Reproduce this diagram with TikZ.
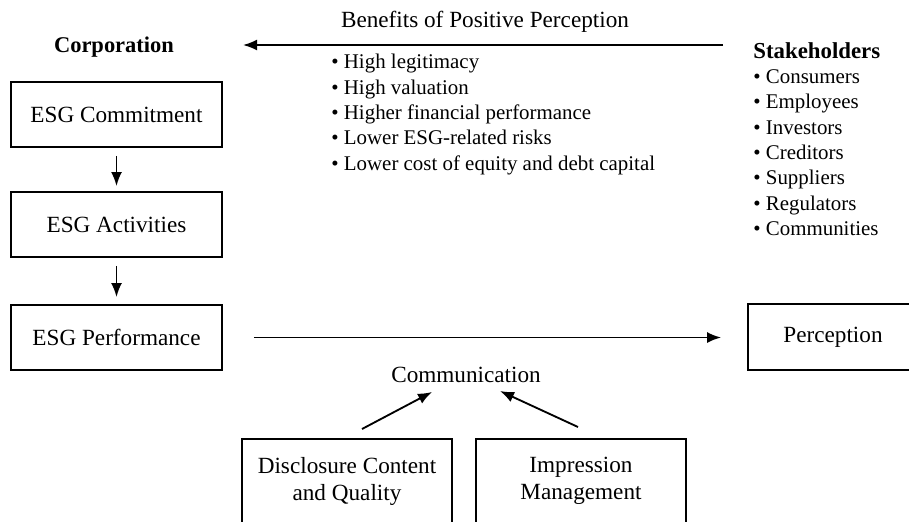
\documentclass[tikz,border=0pt]{standalone}
\usepackage{fontspec}
\setmainfont{Liberation Serif}
\usetikzlibrary{arrows.meta,positioning}

\begin{document}
\begin{tikzpicture}[x=0.02cm,y=-0.02cm,
    font=\fontsize{13.2}{14.4}\selectfont,
    every node/.style={inner sep=0pt},
    esgbox/.style={draw,line width=1.1pt,minimum width=4.22cm,minimum height=1.3cm,align=center},
    srcbox/.style={draw,line width=1.1pt,minimum width=4.2cm,minimum height=1.68cm,align=center,
        font=\fontsize{13.2}{15.4}\selectfont},
    bulletlist/.style={anchor=north west,align=left,font=\fontsize{11.9}{14.4}\selectfont},
    flow/.style={-{Latex[length=2.8mm,width=2.2mm]},line width=1.05pt}]
    \clip (0,0) rectangle (909,521);
    % corporation side
    \node[font=\fontsize{12.8}{14.4}\selectfont\bfseries] (corp) at (114,47) {Corporation};
    \node[esgbox] (commit) at (116.5,114.5) {ESG Commitment};
    \node[esgbox] (activ) at (116.5,224.5) {ESG Activities};
    \node[esgbox] (perf) at (116.5,337.5) {ESG Performance};
    \draw[flow,shorten <=0.16cm,shorten >=0.1cm] (commit) -- (activ);
    \draw[flow,shorten <=0.16cm,shorten >=0.14cm] (activ) -- (perf);
    % stakeholder side
    \node[bulletlist] (stake) at (753,42) {{\fontsize{13}{14.4}\selectfont\bfseries Stakeholders}\\
        \textbullet\ Consumers\\ \textbullet\ Employees\\ \textbullet\ Investors\\
        \textbullet\ Creditors\\ \textbullet\ Suppliers\\ \textbullet\ Regulators\\
        \textbullet\ Communities};
    \node[draw,line width=1.1pt,minimum width=3.4cm,minimum height=1.32cm] (percep) at (833,337) {Perception};
    % benefits
    \node (bentitle) at (485,22) {Benefits of Positive Perception};
    \node[bulletlist] (benlist) at (331,54) {\textbullet\ High legitimacy\\
        \textbullet\ High valuation\\ \textbullet\ Higher financial performance\\
        \textbullet\ Lower ESG-related risks\\ \textbullet\ Lower cost of equity and debt capital};
    \coordinate (benstart) at (723,45);
    \coordinate (benend) at (243,45);
    \draw[flow] (benstart) -- (benend);
    \draw[flow,shorten <=0.62cm,shorten >=0.52cm] (perf.east) -- (perf.east -| percep.west);
    % communication
    \node (comm) at (466,375) {Communication};
    \node[srcbox] (discl) at (347,481) {Disclosure Content\\and Quality};
    \node[srcbox] (impr) at (581,481) {Impression\\Management};
    \coordinate (dtail) at (362,429);
    \coordinate (dhead) at (432,392);
    \coordinate (itail) at (578,427);
    \coordinate (ihead) at (500,391);
    \draw[flow] (dtail) -- (dhead);
    \draw[flow] (itail) -- (ihead);
\end{tikzpicture}
\end{document}
